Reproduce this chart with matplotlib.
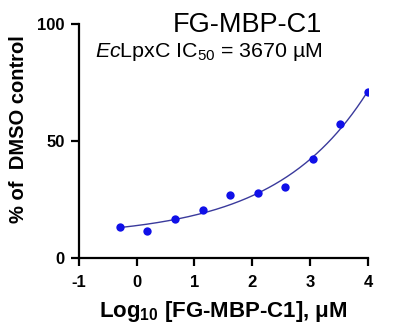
import numpy as np
import matplotlib
matplotlib.use('Agg')
import matplotlib.pyplot as plt

# data
log_conc = [-0.29, 0.18, 0.66, 1.14, 1.61, 2.09, 2.57, 3.05, 3.52, 4.00]
pct_ctrl = [13.4, 11.5, 16.7, 20.5, 26.7, 27.6, 30.5, 42.3, 57.4, 71.1]

def fourpl(p, x):
    b, t, lic, h = p
    return b + (t - b) / (1 + 10 ** ((lic - x) * h))

# simple Levenberg-Marquardt fit of the 4PL curve to the points
x = np.array(log_conc)
y = np.array(pct_ctrl)
p = np.array([12.0, 150.0, 4.0, 0.5])
lam = 1e-3
sse = np.sum((y - fourpl(p, x)) ** 2)
for it in range(400):
    r = y - fourpl(p, x)
    J = np.empty((len(x), 4))
    for k in range(4):
        dp = np.zeros(4)
        dp[k] = 1e-6 * max(1.0, abs(p[k]))
        J[:, k] = (fourpl(p + dp, x) - fourpl(p, x)) / dp[k]
    A = J.T @ J
    g = J.T @ r
    try:
        step = np.linalg.solve(A + lam * np.diag(np.diag(A)) + 1e-12 * np.eye(4), g)
    except np.linalg.LinAlgError:
        break
    pn = p + step
    sn = np.sum((y - fourpl(pn, x)) ** 2)
    if np.isfinite(sn) and sn < sse:
        p, sse = pn, sn
        lam *= 0.3
    else:
        lam *= 10

plt.rcParams['font.family'] = ['Liberation Sans', 'DejaVu Sans']
plt.rcParams['mathtext.fontset'] = 'custom'
plt.rcParams['mathtext.rm'] = 'Liberation Sans'
plt.rcParams['mathtext.it'] = 'Liberation Sans:italic'
plt.rcParams['mathtext.bf'] = 'Liberation Sans:bold'
plt.rcParams['axes.unicode_minus'] = False

fig = plt.figure(figsize=(3.93, 3.27), dpi=100)
ax = fig.add_axes([0.200, 0.211, 0.737, 0.716])

xf = np.linspace(log_conc[0], log_conc[-1], 200)
ax.plot(xf, fourpl(p, xf), color='#3a3a9c', lw=1.0, zorder=2)
ax.plot(log_conc, pct_ctrl, 'o', color='#1010e8', ms=6, mec='none', zorder=3)

ax.set_xlim(-1, 4)
ax.set_ylim(0, 100)
ax.set_xticks([-1, 0, 1, 2, 3, 4])
ax.set_yticks([0, 50, 100])
for s in ['top', 'right']:
    ax.spines[s].set_visible(False)
for s in ['left', 'bottom']:
    ax.spines[s].set_linewidth(1.6)
ax.tick_params(width=1.6, length=6, labelsize=12, pad=4)
ax.tick_params(axis='x', pad=6)
for lab in ax.get_xticklabels() + ax.get_yticklabels():
    lab.set_fontweight('bold')

ax.set_xlabel(r'Log$_{\mathbf{10}}$ [FG-MBP-C1], $\mathbf{\mu}$M', fontsize=16, fontweight='bold', labelpad=7)
ax.set_ylabel('% of  DMSO control', fontsize=14.5, fontweight='bold')
ax.yaxis.set_label_coords(-0.175, 0.55)

fig.text(0.82, 0.902, 'FG-MBP-C1', fontsize=19.5, ha='right')
fig.text(0.82, 0.826, r'$\mathit{Ec}$LpxC IC$_{50}$ = 3670 µM', fontsize=15.4, ha='right')

plt.savefig('out.png', dpi=100)
